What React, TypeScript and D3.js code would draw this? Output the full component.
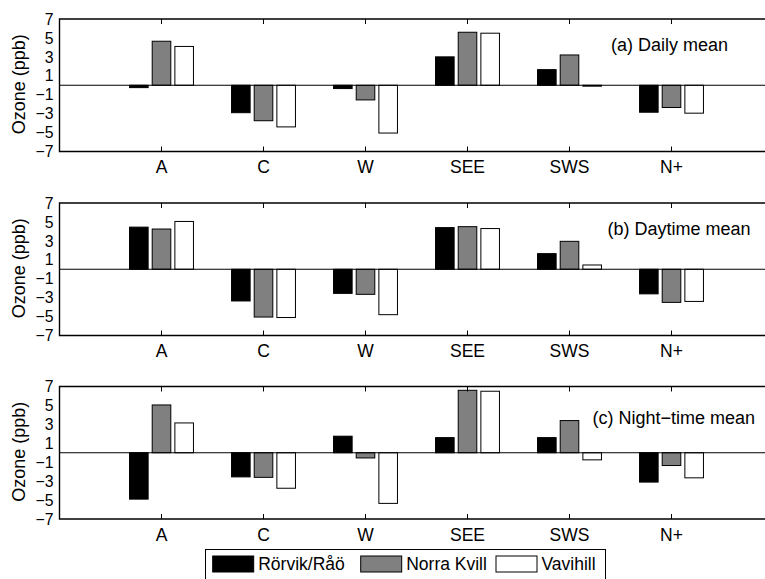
import React, { useEffect, useRef } from 'react';
import * as d3 from 'd3';

const categories = ['A', 'C', 'W', 'SEE', 'SWS', 'N+'];
const stations = ['Rörvik/Råö', 'Norra Kvill', 'Vavihill'];
const stationColors = ['#000000', '#808080', '#ffffff'];

// each panel: [station][category] in ppb
const dailyMean = [
  [-0.25, -2.9, -0.35, 3.0, 1.65, -2.85],
  [4.65, -3.75, -1.55, 5.6, 3.2, -2.35],
  [4.1, -4.4, -5.05, 5.5, -0.1, -2.95]
];
const daytimeMean = [
  [4.45, -3.35, -2.55, 4.4, 1.65, -2.6],
  [4.25, -5.05, -2.65, 4.5, 2.95, -3.5],
  [5.05, -5.1, -4.8, 4.3, 0.45, -3.4]
];
const nightMean = [
  [-4.9, -2.55, 1.75, 1.6, 1.6, -3.1],
  [5.05, -2.6, -0.55, 6.6, 3.4, -1.35],
  [3.15, -3.75, -5.35, 6.5, -0.75, -2.65]
];
const panelData = [dailyMean, daytimeMean, nightMean];
const panelLabels = ['(a) Daily mean', '(b) Daytime mean', '(c) Night\u2212time mean'];
const yTicks = [7, 5, 3, 1, -1, -3, -5, -7];

const W = 765;
const H = 579;

export default function App() {
  const svgRef = useRef<SVGSVGElement>(null);

  useEffect(() => {
    if (!svgRef.current) return;
    const svg = d3.select(svgRef.current);
    svg.selectAll('*').remove();

    const left = 59.5;
    const step = 102;
    const panelTops = [19, 203, 386.5];
    const panelH = 132.5;
    const labelPos = [
      { x: 611, dy: 31.7 },
      { x: 607.5, dy: 31.7 },
      { x: 592.5, dy: 37.6 }
    ];
    const font = 'Liberation Sans, Arial, Helvetica, sans-serif';

    const x = d3.scaleLinear().domain([0, 7]).range([left, left + 7 * step]);
    const inner = d3.scaleBand<string>().domain(stations).range([-34, 34]).paddingInner(0.18).paddingOuter(0.09);

    panelData.forEach((series, p) => {
      const top = panelTops[p];
      const y = d3.scaleLinear().domain([-7, 7]).range([top + panelH, top]);
      const g = svg.append('g');

      // bars
      series.forEach((vals, s) => {
        g.selectAll(null)
          .data(vals)
          .enter()
          .append('rect')
          .attr('x', (_d, i) => x(i + 1) + (inner(stations[s]) as number))
          .attr('width', inner.bandwidth())
          .attr('y', d => y(Math.max(0, d)))
          .attr('height', d => Math.abs(y(d) - y(0)))
          .attr('fill', stationColors[s])
          .attr('stroke', '#000')
          .attr('stroke-width', 1);
      });

      // zero line
      g.append('line')
        .attr('x1', left).attr('x2', W)
        .attr('y1', y(0)).attr('y2', y(0))
        .attr('stroke', '#000').attr('stroke-width', 1);

      // box (left, top, bottom)
      g.append('path')
        .attr('d', `M${W},${y(7)}H${left}V${y(-7)}H${W}`)
        .attr('fill', 'none')
        .attr('stroke', '#000')
        .attr('stroke-width', 1.4);

      // x ticks (inside, top and bottom)
      categories.forEach((c, i) => {
        const cx = x(i + 1);
        g.append('line').attr('x1', cx).attr('x2', cx)
          .attr('y1', y(7)).attr('y2', y(7) + 5)
          .attr('stroke', '#000');
        g.append('line').attr('x1', cx).attr('x2', cx)
          .attr('y1', y(-7)).attr('y2', y(-7) - 5)
          .attr('stroke', '#000');
        g.append('text')
          .attr('x', cx).attr('y', y(-7) + 21.5)
          .attr('text-anchor', 'middle')
          .attr('font-family', font)
          .attr('font-size', 17.5)
          .text(c);
      });

      // y tick labels
      yTicks.forEach(t => {
        g.append('text')
          .attr('x', 53.5).attr('y', y(t))
          .attr('dy', '0.36em')
          .attr('text-anchor', 'end')
          .attr('font-family', font)
          .attr('font-size', 15.8)
          .text(t < 0 ? `\u2212${Math.abs(t)}` : `${t}`);
      });

      // y label
      g.append('text')
        .attr('transform', `translate(25,${top + panelH / 2 - 1}) rotate(-90)`)
        .attr('text-anchor', 'middle')
        .attr('font-family', font)
        .attr('font-size', 18)
        .text('Ozone (ppb)');

      // panel label
      g.append('text')
        .attr('x', labelPos[p].x)
        .attr('y', top + labelPos[p].dy)
        .attr('font-family', font)
        .attr('font-size', 18)
        .text(panelLabels[p]);
    });

    // legend
    const lg = svg.append('g');
    lg.append('rect')
      .attr('x', 205.5).attr('y', 549.5)
      .attr('width', 400).attr('height', 40)
      .attr('fill', '#fff').attr('stroke', '#000').attr('stroke-width', 1);
    const swatchX = [212.7, 360.7, 496];
    stations.forEach((s, i) => {
      lg.append('rect')
        .attr('x', swatchX[i]).attr('y', 556)
        .attr('width', 41).attr('height', 16)
        .attr('fill', stationColors[i])
        .attr('stroke', '#000').attr('stroke-width', 1);
      lg.append('text')
        .attr('x', swatchX[i] + 45.5).attr('y', 569.5)
        .attr('font-family', font)
        .attr('font-size', 17.5)
        .text(s);
    });
  }, []);

  return (
    <svg
      ref={svgRef}
      width={W}
      height={H}
      style={{ position: 'absolute', left: 0, top: 0, background: '#fff' }}
    />
  );
}
